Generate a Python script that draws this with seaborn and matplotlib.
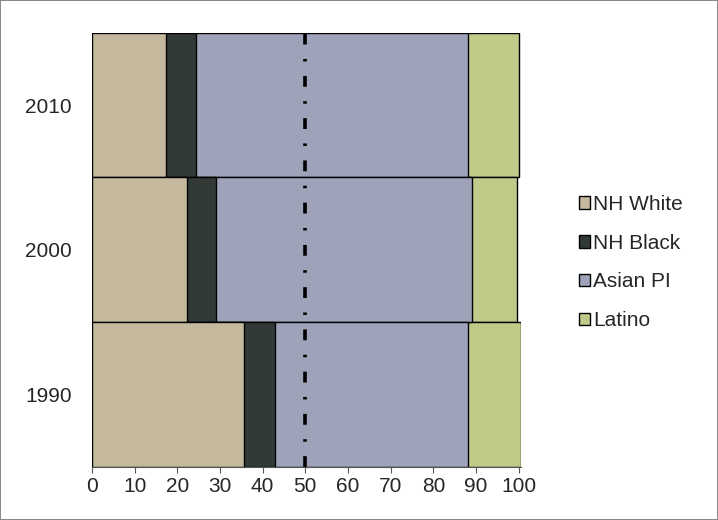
import numpy as np
import pandas as pd
import seaborn as sns
import matplotlib.pyplot as plt
from matplotlib.patches import Patch

years = ["2010", "2000", "1990"]
groups = ["NH White", "NH Black", "Asian PI", "Latino"]
nh_white = [17.3, 22.2, 35.7]
nh_black = [7.1, 6.9, 7.3]
asian_pi = [63.7, 60.0, 45.2]
latino = [11.9, 10.4, 12.4]
colors = ["#C4B99D", "#323A38", "#9EA3B9", "#C0CB8A"]

df = pd.DataFrame({"Year": years, "NH White": nh_white, "NH Black": nh_black,
                   "Asian PI": asian_pi, "Latino": latino})

sns.set_style("white")
plt.rcParams['font.family'] = ['Liberation Sans', 'DejaVu Sans']

fig = plt.figure(figsize=(7.18, 5.2), dpi=100, linewidth=1.2, edgecolor="#8a8a8a")
ax = fig.add_axes([0.128, 0.102, 0.598, 0.835])

# stacked bars by overlaying cumulative totals, widest first
cum = df[groups].cumsum(axis=1)
for g, c in reversed(list(zip(groups, colors))):
    sns.barplot(x=cum[g], y=df["Year"], order=years, orient="h", color=c,
                saturation=1, width=1.0, edgecolor="black", linewidth=1.0, ax=ax)

ax.axvline(50, color="black", linewidth=2.6, linestyle=(0, (3.0, 4.0, 0.7, 4.0)))

ax.set_xlim(0, 100.6)
ax.set_xticks(range(0, 101, 10))
ax.set_ylim(2.5, -0.5)
ax.set_xlabel("")
ax.set_ylabel("")
ax.tick_params(axis="x", labelsize=15, bottom=True, length=4, color="#555555", pad=3)
ax.tick_params(axis="y", labelsize=15, left=False, pad=11)
for s in ["top", "right", "left"]:
    ax.spines[s].set_visible(False)
ax.spines["bottom"].set_color("#555555")

handles = [Patch(facecolor=c, edgecolor="black", label=g) for g, c in zip(groups, colors)]
fig.legend(handles=handles, loc="center left", bbox_to_anchor=(0.78, 0.495),
           frameon=False, fontsize=15, handlelength=0.55, handleheight=0.55,
           handletextpad=0.15, labelspacing=0.95)

fig.savefig("out.png", dpi=100)
